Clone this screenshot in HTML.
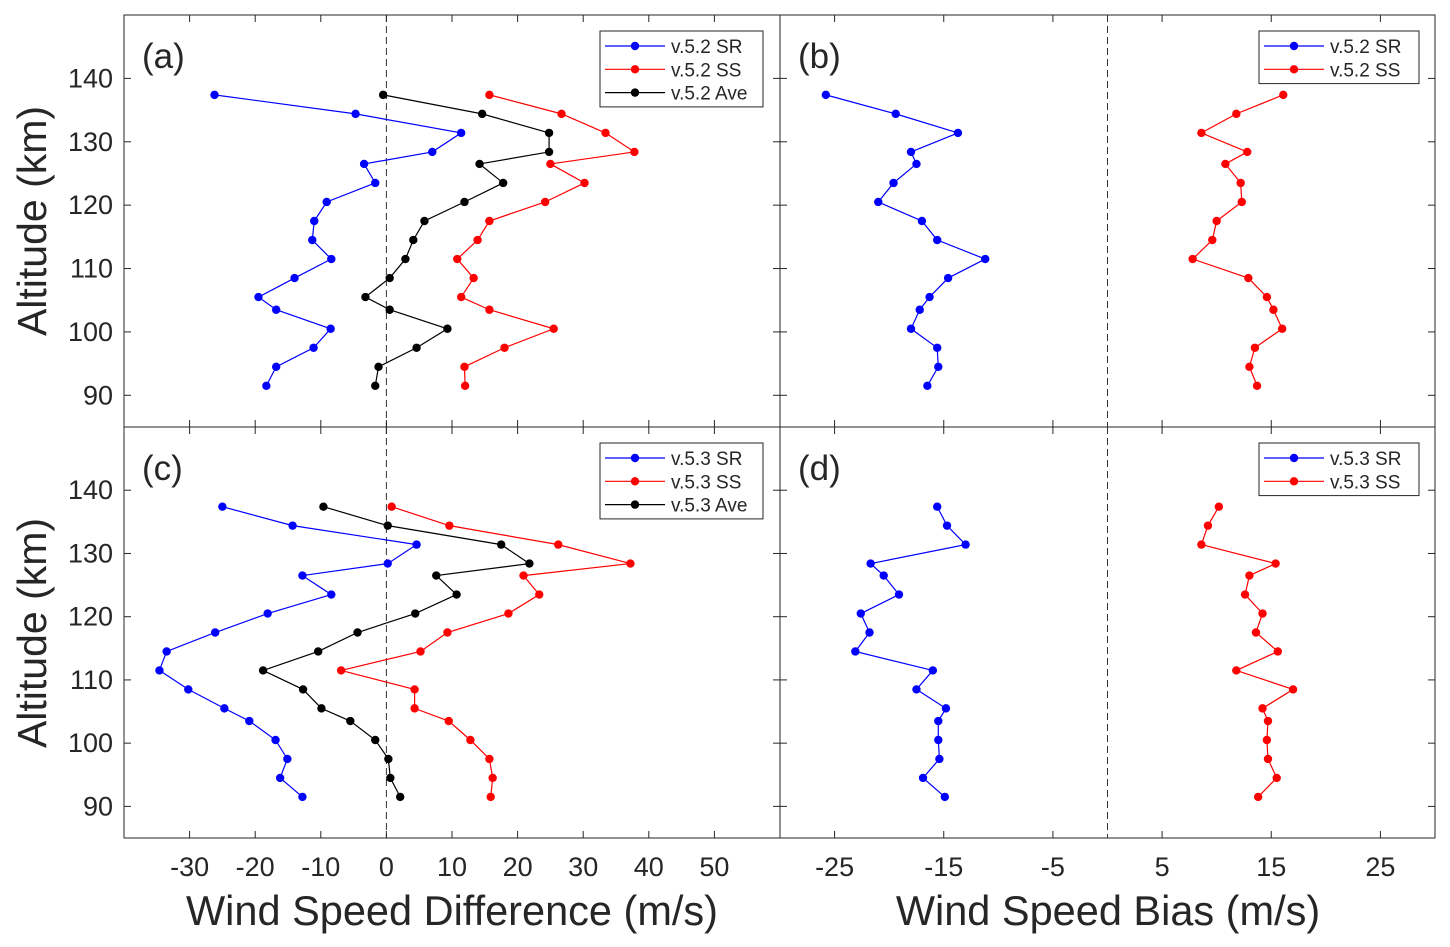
<!DOCTYPE html>
<html><head><meta charset="utf-8"><style>
body{margin:0;background:#fff;}
svg{display:block;font-family:"Liberation Sans",Arial,sans-serif;}
</style></head><body>
<svg id="c" width="1450" height="947" xmlns="http://www.w3.org/2000/svg"></svg>
<script>
const alts=[137.4,134.4,131.4,128.4,126.5,123.5,120.5,117.5,114.5,111.5,108.5,105.5,103.5,100.5,97.5,94.5,91.5];
const aSR=[-26.2,-4.7,11.4,7.0,-3.4,-1.7,-9.1,-11.0,-11.3,-8.4,-14.0,-19.5,-16.8,-8.5,-11.1,-16.8,-18.3];
const aSS=[15.7,26.7,33.4,37.8,25.0,30.2,24.2,15.7,13.9,10.8,13.3,11.4,15.7,25.5,18.0,11.9,12.0];
const aAve=[-0.5,14.6,24.8,24.8,14.2,17.8,11.9,5.8,4.1,2.9,0.5,-3.2,0.5,9.3,4.6,-1.2,-1.7];
const bSR=[-25.8,-19.4,-13.7,-18.0,-17.5,-19.6,-21.0,-17.0,-15.6,-11.2,-14.6,-16.3,-17.2,-18.0,-15.6,-15.5,-16.5];
const bSS=[16.1,11.8,8.6,12.8,10.8,12.2,12.3,10.0,9.6,7.8,12.9,14.6,15.2,16.0,13.5,13.0,13.7];
const cSR=[-25.0,-14.3,4.6,0.2,-12.8,-8.4,-18.1,-26.1,-33.5,-34.6,-30.2,-24.7,-20.9,-16.9,-15.1,-16.2,-12.8];
const cSS=[0.8,9.6,26.2,37.2,20.9,23.3,18.6,9.3,5.2,-6.9,4.3,4.3,9.5,12.8,15.7,16.2,15.9];
const cAve=[-9.6,0.2,17.5,21.8,7.6,10.7,4.4,-4.4,-10.4,-18.8,-12.7,-9.9,-5.5,-1.7,0.3,0.6,2.1];
const dSR=[-15.6,-14.7,-13.0,-21.7,-20.5,-19.1,-22.6,-21.8,-23.1,-16.0,-17.5,-14.8,-15.5,-15.5,-15.4,-16.9,-14.9];
const dSS=[10.2,9.2,8.6,15.4,13.0,12.6,14.2,13.6,15.6,11.8,17.0,14.2,14.7,14.6,14.7,15.5,13.8];
const yTicks=[90,100,110,120,130,140];
const xTicksL=[-30,-20,-10,0,10,20,30,40,50];
const xTicksR=[-25,-15,-5,5,15,25];

const S=document.getElementById('c');const NS='http://www.w3.org/2000/svg';
function mk(t,a,p){const e=document.createElementNS(NS,t);for(const k in a)e.setAttribute(k,a[k]);(p||S).appendChild(e);return e;}
const panels=[
 {id:'a',x0:124,x1:780,y0:15,y1:427,xmin:-40,xmax:60,xt:xTicksL,series:[[aSR,'#0000ff','v.5.2 SR'],[aSS,'#ff0000','v.5.2 SS'],[aAve,'#000','v.5.2 Ave']],leg:[600,31,163]},
 {id:'b',x0:780,x1:1435,y0:15,y1:427,xmin:-30,xmax:30,xt:xTicksR,series:[[bSR,'#0000ff','v.5.2 SR'],[bSS,'#ff0000','v.5.2 SS']],leg:[1259,31,160]},
 {id:'c',x0:124,x1:780,y0:427,y1:838,xmin:-40,xmax:60,xt:xTicksL,series:[[cSR,'#0000ff','v.5.3 SR'],[cSS,'#ff0000','v.5.3 SS'],[cAve,'#000','v.5.3 Ave']],leg:[600,443,163]},
 {id:'d',x0:780,x1:1435,y0:427,y1:838,xmin:-30,xmax:30,xt:xTicksR,series:[[dSR,'#0000ff','v.5.3 SR'],[dSS,'#ff0000','v.5.3 SS']],leg:[1259,443,160]}
];
panels.forEach(P=>{
 const g=mk('g',{});
 
 
 const X=v=>P.x0+(v-P.xmin)/(P.xmax-P.xmin)*(P.x1-P.x0);
 const Y=v=>P.y1-(v-85)/(150-85)*(P.y1-P.y0);
 mk('rect',{x:P.x0,y:P.y0,width:P.x1-P.x0,height:P.y1-P.y0,fill:'none',stroke:'#262626','stroke-width':1},g);
 mk('line',{x1:X(0),x2:X(0),y1:P.y0,y2:P.y1,stroke:'#333','stroke-dasharray':'7,4','stroke-width':1},g);
 yTicks.forEach(t=>{const y=Y(t);
  mk('line',{x1:P.x0,x2:P.x0+7,y1:y,y2:y,stroke:'#262626'},g);
  mk('line',{x1:P.x1,x2:P.x1-7,y1:y,y2:y,stroke:'#262626'},g);
  if(P.x0<200){const t1=mk('text',{x:113,y:y+9,'text-anchor':'end','font-size':27,fill:'#262626'},g);t1.textContent=t;}
 });
 P.xt.forEach(t=>{const x=X(t);
  mk('line',{x1:x,x2:x,y1:P.y1,y2:P.y1-7,stroke:'#262626'},g);
  mk('line',{x1:x,x2:x,y1:P.y0,y2:P.y0+7,stroke:'#262626'},g);
  if(P.y1>800){const t1=mk('text',{x:x,y:876,'text-anchor':'middle','font-size':27,fill:'#262626'},g);t1.textContent=t;}
 });
 P.series.forEach(([vals,col,name])=>{
  const pts=vals.map((v,i)=>X(v)+','+Y(alts[i])).join(' ');
  const pl=mk('polyline',{points:pts,fill:'none',stroke:col,'stroke-width':1.2},g);
  
  vals.forEach((v,i)=>{const c=mk('circle',{cx:X(v),cy:Y(alts[i]),r:4.2,fill:col},g);
   });
 });
 const lb=mk('text',{x:P.x0+18,y:P.y0+53,'font-size':35,fill:'#262626'},g);lb.textContent='('+P.id+')';
 
 const [lx,ly,lw]=P.leg;const n=P.series.length;
 const lg=mk('g',{},g);
 mk('rect',{x:lx,y:ly,width:lw,height:n*23.3+6,fill:'#fff',stroke:'#262626'},lg);
 P.series.forEach(([v,col,name],i)=>{const yy=ly+15+i*23.3;
  mk('line',{x1:lx+5,x2:lx+65,y1:yy,y2:yy,stroke:col,'stroke-width':1.2},lg);
  mk('circle',{cx:lx+35,cy:yy,r:4.2,fill:col},lg);
  const t=mk('text',{x:lx+71,y:yy+7,'font-size':19,fill:'#262626'},lg);t.textContent=name;
  
 });
});
[[221,'Altitude (km)'],[633,'Altitude (km)']].forEach(([y,s])=>{const t=mk('text',{x:46,y:y,'text-anchor':'middle','font-size':41,fill:'#262626',transform:'rotate(-90 46 '+y+')'});t.textContent=s;
 });
const t1=mk('text',{x:452,y:925,'text-anchor':'middle','font-size':41.5,fill:'#262626'});t1.textContent='Wind Speed Difference (m/s)';

const t2=mk('text',{x:1108,y:925,'text-anchor':'middle','font-size':41.5,fill:'#262626'});t2.textContent='Wind Speed Bias (m/s)';

</script>
</body></html>
